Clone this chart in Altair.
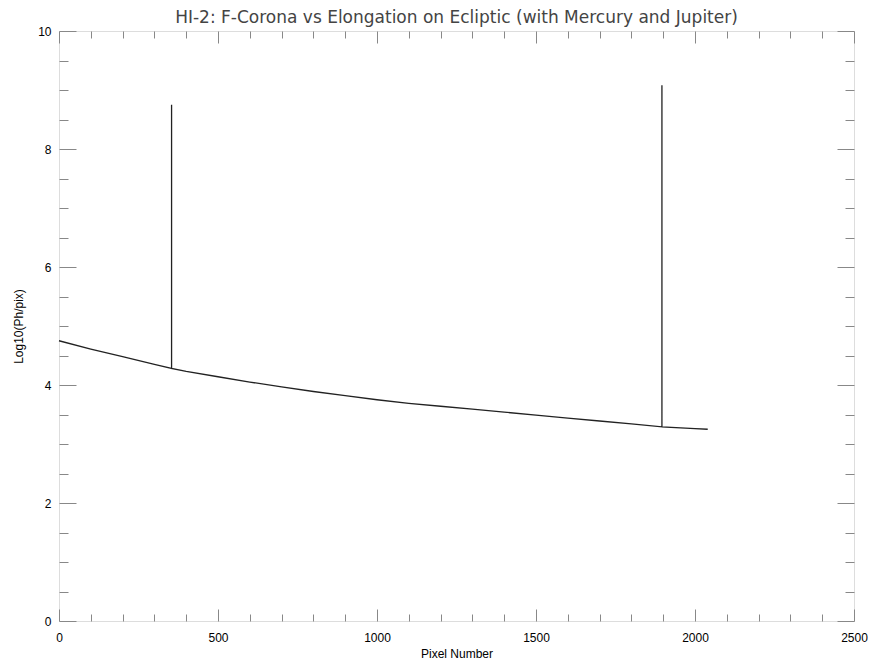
import altair as alt
import pandas as pd

# F-corona curve (pixel number vs log10 brightness)
pixel = [0, 100, 200, 300, 354, 400, 500, 600, 700, 800, 900, 1000, 1100,
         1200, 1300, 1400, 1500, 1600, 1700, 1800, 1896, 2000, 2040]
log_flux = [4.75, 4.61, 4.48, 4.35, 4.28, 4.23, 4.14, 4.05, 3.97, 3.89, 3.82,
            3.75, 3.69, 3.64, 3.59, 3.54, 3.49, 3.44, 3.39, 3.34, 3.29, 3.26, 3.25]

# planet spikes (Mercury, Jupiter)
spike_pixel = [354, 1896]
spike_peak = [8.75, 9.08]

x_major = [0, 500, 1000, 1500, 2000, 2500]
x_minor = [v for v in range(0, 2501, 100) if v % 500 != 0]
y_major = [0, 2, 4, 6, 8, 10]
y_minor = [v / 2 for v in range(0, 21) if v % 4 != 0]

# build the path: the curve, with an up-and-down excursion at each planet
rows = []
for p, f in zip(pixel, log_flux):
    rows.append((p, f))
    if p in spike_pixel:
        peak = spike_peak[spike_pixel.index(p)]
        rows.append((p, peak))
        rows.append((p, f))
df = pd.DataFrame(rows, columns=["pixel", "logflux"])
df["order"] = range(len(df))

W, H = 795, 590
INK = "#333333"
xs = alt.Scale(domain=[0, 2500], nice=False)
ys = alt.Scale(domain=[0, 10], nice=False)

base = alt.Chart(df)

main = base.mark_line(color="#222222", strokeWidth=1.3).encode(
    x=alt.X("pixel:Q", scale=xs,
            axis=alt.Axis(orient="bottom", values=x_major, format="d", ticks=False,
                          domain=False, grid=False, labelPadding=11, labelFontSize=12,
                          labelFlush=False,
                          title="Pixel Number", titlePadding=5, titleFontSize=12,
                          titleFontWeight="normal")),
    y=alt.Y("logflux:Q", scale=ys,
            axis=alt.Axis(orient="left", values=y_major, format="d", ticks=False,
                          domain=False, grid=False, labelPadding=8, labelFontSize=12,
                          labelFlush=False,
                          title="Log10(Ph/pix)", titlePadding=12, titleFontSize=12,
                          titleFontWeight="normal")),
    order="order:Q",
)


def tick_layer(xorient, yorient, xvals, yvals, xsize, ysize):
    return base.mark_line(opacity=0).encode(
        x=alt.X("pixel:Q", scale=xs,
                axis=alt.Axis(orient=xorient, offset=-H, values=xvals, tickSize=xsize,
                              labels=False, domain=False, grid=False, title=None)),
        y=alt.Y("logflux:Q", scale=ys,
                axis=alt.Axis(orient=yorient, offset=-W, values=yvals, tickSize=ysize,
                              labels=False, domain=False, grid=False, title=None)),
        order="order:Q",
    )


layers = [
    main,
    tick_layer("top", "right", x_minor, y_minor, 7, 9),
    tick_layer("top", "right", x_major, y_major, 12, 17),
    tick_layer("bottom", "left", x_minor, y_minor, 7, 9),
    tick_layer("bottom", "left", x_major, y_major, 12, 17),
]

chart = alt.layer(*layers).resolve_axis(x="independent", y="independent").properties(
    width=W,
    height=H,
    autosize=alt.AutoSizeParams(type="none"),
    padding={"left": 51, "top": 23, "right": 14, "bottom": 40},
    title=alt.TitleParams(
        "HI-2: F-Corona vs Elongation on Ecliptic (with Mercury and Jupiter)",
        fontSize=17, fontWeight="normal", color="#444444", font="DejaVu Sans",
        anchor="middle", offset=-2,
    ),
).configure_view(
    stroke="#555555", strokeWidth=1.5
).configure_axis(
    tickColor=INK, tickWidth=1.4, labelColor="#333333", titleColor="#333333",
    labelFont="DejaVu Sans", titleFont="DejaVu Sans"
).configure(background="white")

chart.save("out.html", embed_options={"renderer": "svg", "actions": False})
